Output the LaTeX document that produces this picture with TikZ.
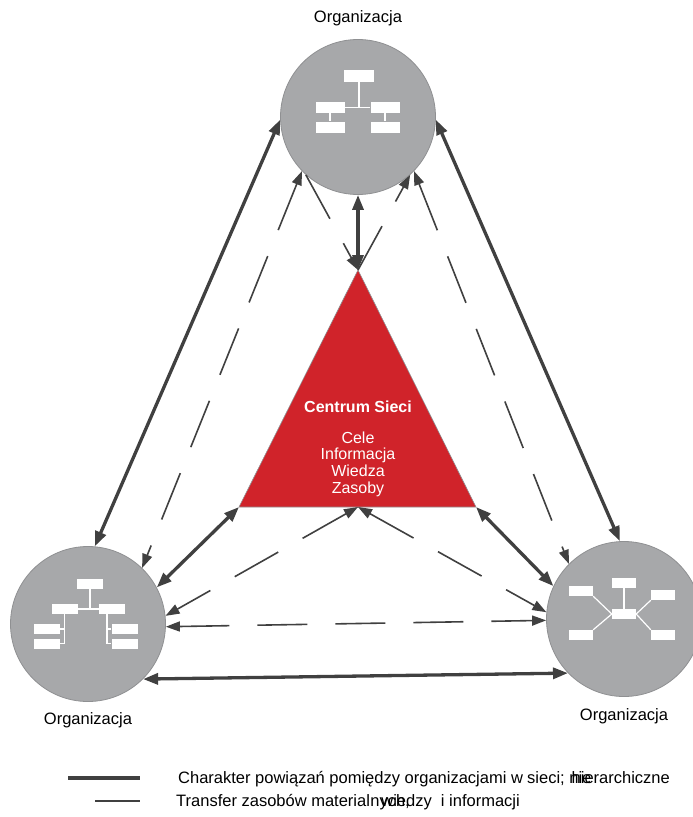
\documentclass[tikz,border=0pt]{standalone}
\usepackage{fontspec}
\setmainfont{Liberation Sans}
\usetikzlibrary{arrows.meta}
\definecolor{orggray}{HTML}{A7A8AA}
\definecolor{orgedge}{HTML}{8F9092}
\definecolor{netred}{HTML}{D0232A}
\definecolor{linegray}{HTML}{404040}
\tikzset{
  bigtip/.tip={Triangle[length=15pt,width=11pt]},
  ft/.tip={Triangle[length=14pt,width=10pt]},
}
\begin{document}
\begin{tikzpicture}[x=1pt,y=-1pt,
  org/.style={circle, fill=orggray, draw=orgedge, line width=0.8pt, minimum size=155pt, inner sep=0pt},
  box/.style={fill=white, inner sep=0pt, minimum width=#1, minimum height=11pt},
  sbox/.style={fill=white, inner sep=0pt, minimum width=25pt, minimum height=10pt},
  chartline/.style={draw=white, line width=1.2pt},
  lab/.style={font=\fontsize{16.5}{19}\selectfont, inner sep=0pt, anchor=base},
  thicklink/.style={draw=linegray, line width=3.3pt, bigtip-bigtip},
  flow/.style={draw=linegray, line width=1.6pt, dash pattern=on 50pt off 28pt},
]
\useasboundingbox (0,0) rectangle (693,817);

% organisations
\node[org] (top) at (358,117) {};
\node[org] (left) at (88,624) {};
\node[org] (right) at (624,619) {};

% network centre
\coordinate (apex) at (358,270);
\coordinate (bl) at (239,507);
\coordinate (br) at (476,507);
\coordinate (bc) at (358,507);
\fill[netred, draw=orgedge, line width=0.6pt] (apex) -- (br) -- (bl) -- cycle;
\node[font=\fontsize{16}{17}\selectfont\bfseries, text=white, inner sep=0pt, anchor=base] (ctitle) at (358,412) {Centrum Sieci};
\node[font=\fontsize{16}{16.8}\selectfont, text=white, inner sep=0pt, align=center, anchor=base] (ctext) at (358,493.4) {Cele\\Informacja\\Wiedza\\Zasoby};

% chart in top organisation
\node[box=30pt, minimum height=12pt] (t0) at (359,76) {};
\node[box=29pt] (t1) at (330,107.5) {};
\node[box=29pt] (t2) at (385,107.5) {};
\node[box=29pt] (t3) at (330,127) {};
\node[box=29pt] (t4) at (385,127) {};
\draw[chartline] (t0.south) -- (t0.south |- t1.east);
\draw[chartline] (t1.east) -- (t2.west);
\draw[chartline] (t1.south) -- (t3.north);
\draw[chartline] (t2.south) -- (t4.north);

% chart in left organisation
\node[sbox, minimum width=26pt] (l0) at (90,584) {};
\node[sbox, minimum width=26pt] (l1) at (64.5,609) {};
\node[sbox, minimum width=26pt] (l2) at (112,609) {};
\node[sbox, minimum width=26pt] (l3) at (47,629) {};
\node[sbox, minimum width=26pt] (l4) at (47,643.5) {};
\node[sbox, minimum width=26pt] (l5) at (124.5,629) {};
\node[sbox, minimum width=26pt] (l6) at (124.5,643.5) {};
\draw[chartline] (l0.south) -- (l0.south |- l1.east);
\draw[chartline] (l1.east) -- (l2.west);
\coordinate (lva) at (64.5,614);
\coordinate (lvb) at (107,614);
\draw[chartline] (lva) -- (lva |- l4.east) -- (l4.east);
\draw[chartline] (l3.east) -- (l3.east -| lva);
\draw[chartline] (lvb) -- (lvb |- l6.west) -- (l6.west);
\draw[chartline] (l5.west) -- (l5.west -| lvb);

% chart in right organisation
\node[sbox, minimum width=24pt] (r0) at (624,583) {};
\node[sbox, minimum width=24pt] (rc) at (624,614) {};
\node[sbox, minimum width=24pt] (r1) at (581,591) {};
\node[sbox, minimum width=24pt] (r2) at (581,635) {};
\node[sbox, minimum width=24pt] (r3) at (663,595) {};
\node[sbox, minimum width=24pt] (r4) at (663,635) {};
\draw[chartline] (r0.south) -- (rc.north);
\draw[chartline] (r1.south east) -- (rc.west);
\draw[chartline] (r2.north east) -- (rc.west);
\draw[chartline] (r3.south west) -- (rc.east);
\draw[chartline] (r4.north west) -- (rc.east);

% hierarchical links
\draw[thicklink] (top.182) -- (left.85);
\draw[thicklink] (top.-2) -- (right.93);
\draw[thicklink] (left.315) -- (right.224);
\draw[thicklink] (top.270) -- (apex);
\draw[thicklink] (bl) -- (left.28);
\draw[thicklink] (br) -- (right.155);

% transfer of resources
\draw[flow, ft-ft] (top.224) -- (left.46);
\draw[flow, ft-ft] (top.316) -- (right.135);
\draw[flow, -ft] (top.228) -- (apex);
\draw[flow, -ft] (apex) -- (top.312);
\draw[flow, ft-ft] (left.-2) -- (right.181);
\draw[flow, ft-ft] (bc) -- (left.6);
\draw[flow, ft-ft] (bc) -- (right.175);

% labels
\node[lab] (ltop) at (358,22) {Organizacja};
\node[lab] (lleft) at (88,724) {Organizacja};
\node[lab] (lright) at (624,720) {Organizacja};

% legend
\coordinate (k1a) at (68,778);
\coordinate (k1b) at (140,778);
\coordinate (k2a) at (95,801);
\coordinate (k2b) at (140,801);
\draw[draw=linegray, line width=3.3pt] (k1a) -- (k1b);
\draw[draw=linegray, line width=1.6pt] (k2a) -- (k2b);
\node[lab, anchor=base west] (g1a) at (178,783) {Charakter powiązań pomiędzy organizacjami w};
\node[lab, anchor=base west] (g1c) at (527,783) {sieci; nie};
\node[lab, anchor=base east] (g1b) at (670,783) {hierarchiczne};
\node[lab, anchor=base west] (g2a) at (176,806) {Transfer zasobów material};
\node[lab, anchor=base west] (g2c) at (g2a.base east) {nych,};
\node[lab, anchor=base east] (g2b) at (520,806) {wiedzy\ \ i informacji};
\end{tikzpicture}
\end{document}
